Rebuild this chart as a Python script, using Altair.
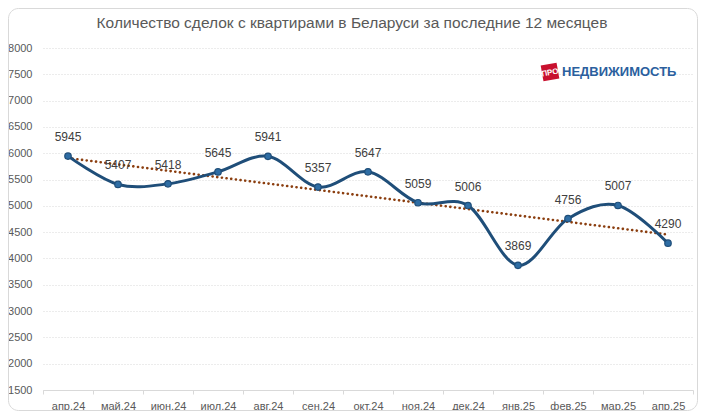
import altair as alt
import pandas as pd
import numpy as np

months = ["апр.24", "май.24", "июн.24", "июл.24", "авг.24", "сен.24", "окт.24",
          "ноя.24", "дек.24", "янв.25", "фев.25", "мар.25", "апр.25"]
deals = [5945, 5407, 5418, 5645, 5941, 5357, 5647, 5059, 5006, 3869, 4756, 5007, 4290]
y_ticks = list(range(1500, 8001, 500))
title_text = "Количество сделок с квартирами в Беларуси за последние 12 месяцев"

idx = np.arange(len(deals))
slope, intercept = np.polyfit(idx, deals, 1)
trend = (intercept + slope * idx).tolist()

df = pd.DataFrame({"month": months, "deals": deals, "trend": trend})

FONT = "Liberation Sans, Arial"

x_enc = alt.X("month:N", sort=months, scale=alt.Scale(paddingInner=0, paddingOuter=0),
              axis=alt.Axis(title=None, labelAngle=0, labelFontSize=11, labelColor="#595959",
                            labelFont=FONT, labelPadding=6,
                            domainColor="#d9d9d9", tickColor="#d9d9d9", tickSize=4,
                            tickBand="extent", grid=False))
y_scale = alt.Scale(domain=[1500, 8000], nice=False, zero=False)
y_axis = alt.Axis(title=None, values=y_ticks, format="d", labelOverlap=False,
                  labelFontSize=11, labelColor="#595959",
                  labelFont=FONT, labelPadding=11, domain=False, ticks=False,
                  gridColor="#d9d9d9", gridDash=[1, 2], gridWidth=1)

base = alt.Chart(df)
one = alt.datum.month == months[0]

border = base.mark_rect(fill="white", fillOpacity=0, stroke="#d9d9d9", strokeWidth=1,
                        cornerRadius=10).encode(
    x=alt.value(-34.5), x2=alt.value(654.5), y=alt.value(-39.5), y2=alt.value(362.5)
).transform_filter(one)

title = base.mark_text(text=title_text, fontSize=15.5, font=FONT, color="#595959",
                       align="center", baseline="middle").encode(
    x=alt.value(309), y=alt.value(-25)).transform_filter(one)

trend_line = base.mark_line(color="#8B3E0F", strokeWidth=2.6, strokeDash=[0.1, 4.6],
                            strokeCap="round").encode(
    x=x_enc, y=alt.Y("trend:Q", scale=y_scale, axis=y_axis))

line = base.mark_line(color="#1F4E79", strokeWidth=3, interpolate="cardinal").encode(
    x=x_enc, y=alt.Y("deals:Q", scale=y_scale, axis=y_axis))

points = base.mark_point(filled=True, size=42, fill="#2E6DA4", stroke="#1F4E79",
                         strokeWidth=1.2, opacity=1, shape="circle").encode(
    x=x_enc, y=alt.Y("deals:Q", scale=y_scale, axis=y_axis))

labels = base.mark_text(dy=-19, fontSize=12, color="#404040", font=FONT).encode(
    x=x_enc, y=alt.Y("deals:Q", scale=y_scale, axis=y_axis), text="deals:Q")

logo_box = base.mark_point(shape="square", filled=True, fill="#C8102E", size=260, angle=350,
                           opacity=1).encode(
    x=alt.value(507), y=alt.value(24)).transform_filter(one)
logo_pro = base.mark_text(text="ПРО", fontSize=8, fontWeight="bold", color="white",
                          font=FONT, angle=350).encode(
    x=alt.value(507), y=alt.value(25)).transform_filter(one)
logo_text = base.mark_text(text="НЕДВИЖИМОСТЬ", fontSize=13, fontWeight="bold",
                           color="#2B5F9E", font=FONT, align="left", baseline="middle").encode(
    x=alt.value(519), y=alt.value(24)).transform_filter(one)

chart = alt.layer(border, title, trend_line, line, points, labels, logo_box, logo_pro, logo_text).properties(
    width=650, height=342,
    padding={"left": 35, "top": 40, "right": 5, "bottom": 21},
    autosize=alt.AutoSizeParams(type="none"),
).configure_view(stroke=None)

chart.save("out.html", embed_options={"renderer": "svg", "actions": False})
